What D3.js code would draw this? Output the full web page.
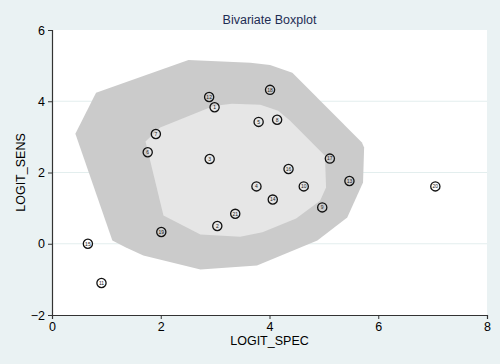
<!DOCTYPE html>
<html>
<head>
<meta charset="utf-8">
<script src="https://cdn.jsdelivr.net/npm/d3@7"></script>
<style>
  body { margin: 0; }
  text { font-family: "Liberation Sans", Arial, sans-serif; }
</style>
</head>
<body>
<div id="viz"></div>
<script>
const ids  = [1, 2, 3, 4, 5, 6, 7, 8, 9, 10, 11, 12, 13, 14, 15, 16, 17, 18, 19, 20, 21];
const spec = [2.99, 3.04, 2.90, 3.76, 3.80, 1.76, 1.91, 4.14, 4.97, 4.63, 0.91, 2.89, 5.47, 4.06, 0.66, 4.35, 5.11, 4.01, 2.01, 7.05, 3.37];
const sens = [3.83, 0.50, 2.38, 1.61, 3.42, 2.57, 3.08, 3.48, 1.02, 1.61, -1.10, 4.12, 1.76, 1.24, 0.00, 2.10, 2.39, 4.32, 0.33, 1.61, 0.84];

// fence (outer) and hinge (inner) outlines
const outerX = [0.43, 0.81, 2.51, 3.65, 4.01, 4.42, 5.70, 5.74, 5.72, 5.43, 4.88, 3.77, 2.73, 1.68, 1.35, 1.11];
const outerY = [3.09, 4.24, 5.16, 5.08, 5.02, 4.80, 2.84, 2.70, 1.72, 0.74, 0.09, -0.61, -0.72, -0.33, -0.10, 0.09];
const innerX = [1.99, 2.97, 3.31, 3.83, 4.16, 4.38, 5.02, 5.04, 4.93, 4.49, 3.87, 3.46, 2.73, 2.05, 1.72];
const innerY = [3.26, 3.87, 3.93, 3.90, 3.73, 3.45, 2.47, 1.58, 1.21, 0.71, 0.32, 0.20, 0.26, 0.79, 2.87];

const xTicks = [0, 2, 4, 6, 8];
const yTicks = [-2, 0, 2, 4, 6];

const width = 500, height = 364;
const margin = {left: 52, right: 13, top: 30, bottom: 49};

const svg = d3.select("#viz").append("svg")
    .attr("width", width)
    .attr("height", height);

svg.append("rect")
    .attr("width", width)
    .attr("height", height)
    .attr("fill", "#eaf2f3");

const x = d3.scaleLinear().domain([0, 8]).range([margin.left, width - margin.right]);
const y = d3.scaleLinear().domain([-2, 6]).range([height - margin.bottom, margin.top]);

svg.append("rect")
    .attr("x", x(0))
    .attr("y", y(6))
    .attr("width", x(8) - x(0))
    .attr("height", y(-2) - y(6))
    .attr("fill", "white");

// grid
svg.selectAll(".grid")
    .data(yTicks.filter(d => d > -2 && d < 6))
    .join("line")
        .attr("class", "grid")
        .attr("x1", x(0))
        .attr("x2", x(8))
        .attr("y1", d => y(d))
        .attr("y2", d => y(d))
        .attr("stroke", "#e3eeee")
        .attr("stroke-width", 1);

const hull = (xs, ys) => d3.line()(xs.map((v, i) => [x(v), y(ys[i])])) + "Z";

svg.append("path")
    .attr("d", hull(outerX, outerY))
    .attr("fill", "#cbcbcb");

svg.append("path")
    .attr("d", hull(innerX, innerY))
    .attr("fill", "#e6e6e6");

// axes
const xAxis = svg.append("g")
    .attr("transform", `translate(0,${y(-2)})`)
    .call(d3.axisBottom(x).tickValues(xTicks).tickSize(4).tickPadding(3));

const yAxis = svg.append("g")
    .attr("transform", `translate(${x(0)},0)`)
    .call(d3.axisLeft(y).tickValues(yTicks).tickSize(4).tickPadding(3));

[xAxis, yAxis].forEach(ax => {
    ax.selectAll(".domain").attr("stroke", "#333").attr("stroke-width", 1.2);
    ax.selectAll(".tick line").attr("stroke", "#333");
    ax.selectAll(".tick text")
        .attr("fill", "black")
        .style("font-size", "12.5px")
        .style("font-family", '"Liberation Sans", Arial, sans-serif');
});

// points
const pts = svg.selectAll(".pt")
    .data(ids.map((id, i) => ({id, spec: spec[i], sens: sens[i]})))
    .join("g")
        .attr("class", "pt")
        .attr("transform", d => `translate(${x(d.spec)},${y(d.sens)})`);

pts.append("circle")
    .attr("r", 4.6)
    .attr("fill", "none")
    .attr("stroke", "#111")
    .attr("stroke-width", 1.3);

pts.append("text")
    .attr("text-anchor", "middle")
    .attr("y", 1.8)
    .style("font-size", "5px")
    .attr("fill", "#222")
    .text(d => d.id);

// titles
svg.append("text")
    .attr("x", (x(0) + x(8)) / 2)
    .attr("y", 24)
    .attr("text-anchor", "middle")
    .attr("fill", "#1e2d53")
    .style("font-size", "12.5px")
    .text("Bivariate Boxplot");

svg.append("text")
    .attr("x", (x(0) + x(8)) / 2)
    .attr("y", 345)
    .attr("text-anchor", "middle")
    .attr("fill", "black")
    .style("font-size", "12.5px")
    .text("LOGIT_SPEC");

svg.append("text")
    .attr("transform", `translate(25,${(y(-2) + y(6)) / 2}) rotate(-90)`)
    .attr("text-anchor", "middle")
    .attr("fill", "black")
    .style("font-size", "12.5px")
    .text("LOGIT_SENS");
</script>
</body>
</html>
